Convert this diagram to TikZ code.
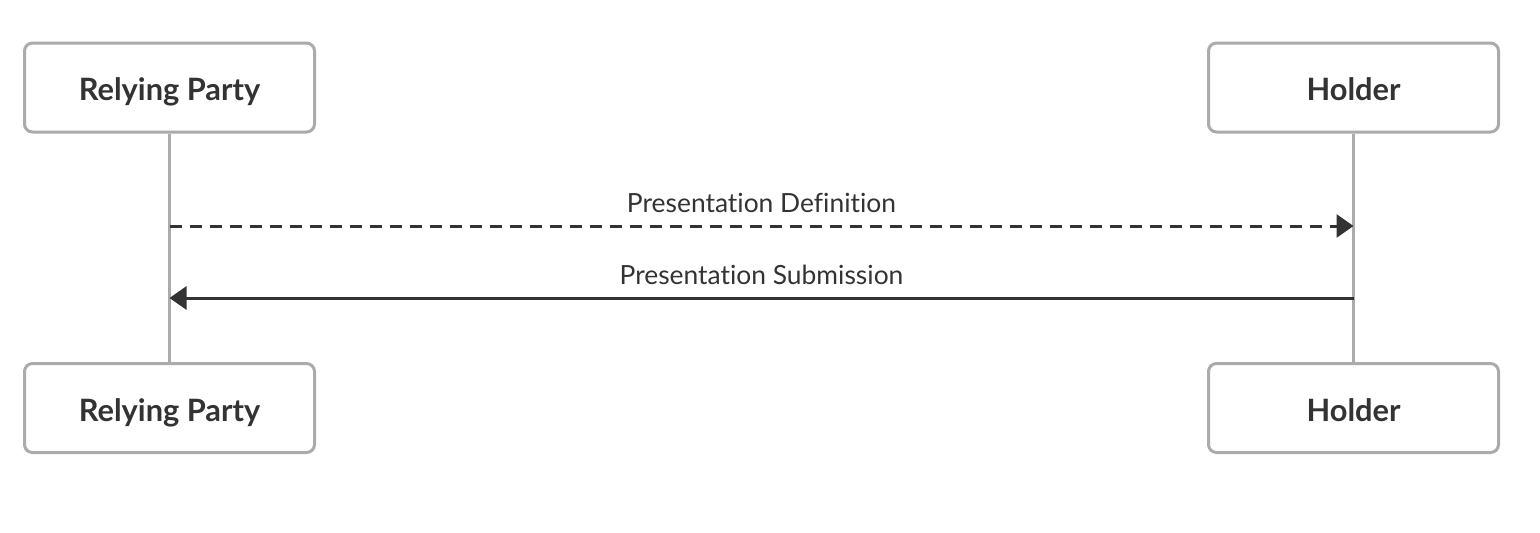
\documentclass[tikz,border=0pt]{standalone}
\usepackage{fontspec}
\setmainfont{Lato}[RawFeature=-liga]
\usepackage{xcolor}
\usetikzlibrary{arrows.meta}

\definecolor{boxgray}{HTML}{ABABAB}
\definecolor{textdark}{HTML}{333333}

\tikzset{
    actor/.style={draw=boxgray, line width=1.5pt, rounded corners=4pt, fill=white,
        minimum width=145pt, minimum height=44.5pt, text=textdark,
        text height=13.1pt, text depth=0pt,
        font=\fontsize{15.4}{18}\selectfont\bfseries},
    lifeline/.style={draw=boxgray, line width=1.5pt},
    message/.style={draw=textdark, line width=1.5pt,
        -{Triangle[length=8.5pt, width=11.5pt]}},
    msglabel/.style={text=textdark, font=\fontsize{13.2}{15}\selectfont}
}

\begin{document}
\begin{tikzpicture}[x=0.5pt, y=-0.5pt]
    \useasboundingbox (0,0) rectangle (1540,532);

    % Participants
    \node[actor] (rpTop) at (169.5,87.5) {Relying Party};
    \node[actor] (holderTop) at (1353.5,87.5) {Holder};
    \node[actor] (rpBottom) at (169.5,408) {Relying Party};
    \node[actor] (holderBottom) at (1353.5,408) {Holder};

    % Lifelines
    \draw[lifeline] (rpTop) -- (rpBottom);
    \draw[lifeline] (holderTop) -- (holderBottom);

    % Messages
    \coordinate (defFrom) at (rpTop |- 0,226);
    \coordinate (defTo) at (holderTop |- 0,226);
    \coordinate (subFrom) at (holderTop |- 0,298);
    \coordinate (subTo) at (rpTop |- 0,298);
    \draw[message, dash pattern=on 6pt off 4pt] (defFrom) -- (defTo)
        node[msglabel, midway, above=2.5pt] (defLabel) {Presentation Definition};
    \draw[message] (subFrom) -- (subTo)
        node[msglabel, midway, above=2.5pt] (subLabel) {Presentation Submission};
\end{tikzpicture}
\end{document}
